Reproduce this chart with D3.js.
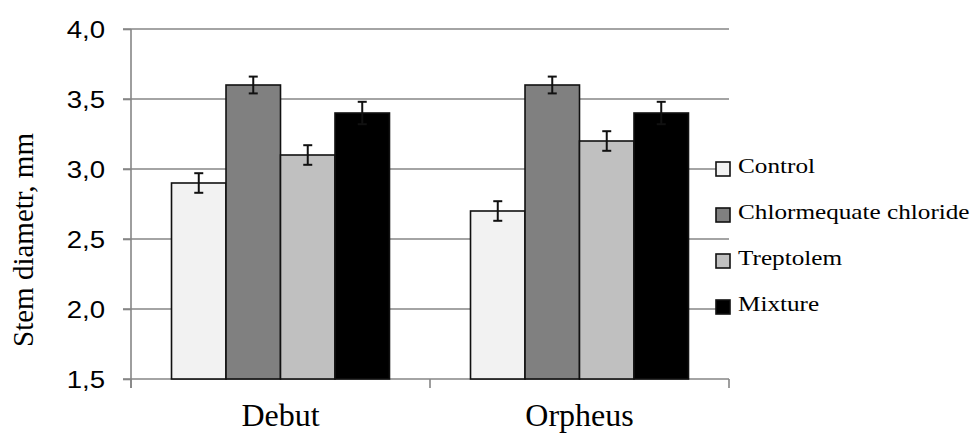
<!DOCTYPE html>
<html>
<head>
<meta charset="utf-8">
<script src="https://cdn.jsdelivr.net/npm/d3@7/dist/d3.min.js"></script>
<style>
  html, body { margin: 0; padding: 0; background: #fff; }
  svg { display: block; }
</style>
</head>
<body>
<svg id="chart" width="976" height="434"></svg>
<script>
const groups = ["Debut", "Orpheus"];
const series = ["Control", "Chlormequate chloride", "Treptolem", "Mixture"];
const colors = ["#f2f2f2", "#808080", "#c0c0c0", "#000000"];
const debutValues = [2.9, 3.6, 3.1, 3.4];
const orpheusValues = [2.7, 3.6, 3.2, 3.4];
const debutErrors = [0.07, 0.06, 0.07, 0.08];
const orpheusErrors = [0.07, 0.06, 0.07, 0.08];
const yTicks = [1.5, 2.0, 2.5, 3.0, 3.5, 4.0];
const yTitle = "Stem diametr, mm";

const values = [debutValues, orpheusValues];
const errors = [debutErrors, orpheusErrors];
const data = [];
groups.forEach((g, gi) => series.forEach((s, si) => {
  data.push({ group: g, series: s, si, value: values[gi][si], err: errors[gi][si] });
}));

const svg = d3.select("#chart");
const plotLeft = 131, plotRight = 729, plotTop = 29, plotBottom = 379;
const gridColor = "#868686";
const serif = "'Liberation Serif', 'Times New Roman', serif";

const y = d3.scaleLinear().domain([1.5, 4.0]).range([plotBottom, plotTop]);
const x0 = d3.scaleBand().domain(groups).range([plotLeft, plotRight]).paddingInner(0.271).paddingOuter(0.1355);
const x1 = d3.scaleBand().domain(series).range([0, x0.bandwidth()]);
const color = d3.scaleOrdinal().domain(series).range(colors);

// gridlines
svg.append("g").selectAll("line").data(yTicks).join("line")
  .attr("x1", plotLeft - 8).attr("x2", plotRight)
  .attr("y1", d => y(d)).attr("y2", d => y(d))
  .attr("stroke", gridColor).attr("stroke-width", 1.6);

// y axis
const yAxis = svg.append("g").attr("transform", `translate(${plotLeft},0)`)
  .call(d3.axisLeft(y).tickValues(yTicks).tickSize(8).tickSizeOuter(0)
    .tickFormat(d => d3.format(".1f")(d).replace(".", ",")));
yAxis.attr("font-family", "'Liberation Sans', Arial, sans-serif").attr("font-size", 23);
yAxis.select(".domain").remove();
yAxis.selectAll(".tick line").attr("stroke", gridColor).attr("stroke-width", 1.6);
yAxis.selectAll(".tick text")
  .attr("x", 0).attr("dy", "0.36em")
  .attr("transform", "translate(-26,0) scale(1.2,1)")
  .attr("fill", "#000");
svg.append("line").attr("x1", plotLeft).attr("x2", plotLeft).attr("y1", plotTop).attr("y2", plotBottom + 9)
  .attr("stroke", gridColor).attr("stroke-width", 1.6);

// x axis
const xAxis = svg.append("g").attr("transform", `translate(0,${plotBottom})`)
  .call(d3.axisBottom(x0).tickSize(0).tickSizeOuter(0).tickPadding(24));
xAxis.attr("font-family", serif).attr("font-size", 32);
xAxis.select(".domain").remove();
xAxis.selectAll(".tick text").attr("fill", "#000");
// category separator ticks
const sepX = [plotLeft, (x0("Debut") + x0.bandwidth() + x0("Orpheus")) / 2, plotRight];
svg.append("g").selectAll("line").data(sepX).join("line")
  .attr("x1", d => d).attr("x2", d => d).attr("y1", plotBottom).attr("y2", plotBottom + 9)
  .attr("stroke", gridColor).attr("stroke-width", 1.6);

// bars
svg.append("g").selectAll("rect").data(data).join("rect")
  .attr("x", d => x0(d.group) + x1(d.series))
  .attr("width", x1.bandwidth())
  .attr("y", d => y(d.value))
  .attr("height", d => y(1.5) - y(d.value))
  .attr("fill", d => color(d.series))
  .attr("stroke", "#111").attr("stroke-width", 1.6);

// error bars
const eb = svg.append("g").attr("stroke", "#111").attr("stroke-width", 2);
data.forEach(d => {
  const cx = x0(d.group) + x1(d.series) + x1.bandwidth() / 2;
  eb.append("line").attr("x1", cx).attr("x2", cx).attr("y1", y(d.value + d.err)).attr("y2", y(d.value - d.err));
  eb.append("line").attr("x1", cx - 4.5).attr("x2", cx + 4.5).attr("y1", y(d.value + d.err)).attr("y2", y(d.value + d.err));
  eb.append("line").attr("x1", cx - 4.5).attr("x2", cx + 4.5).attr("y1", y(d.value - d.err)).attr("y2", y(d.value - d.err));
});

// y title
svg.append("text")
  .attr("transform", "translate(33,240) rotate(-90)")
  .attr("text-anchor", "middle")
  .attr("fill", "#000")
  .attr("font-family", serif)
  .attr("font-size", 29)
  .text(yTitle);

// legend
const leg = svg.append("g").attr("font-family", serif).attr("font-size", 21);
const legY = d3.scalePoint().domain(series).range([169, 307]);
series.forEach(s => {
  const cy = legY(s);
  leg.append("rect").attr("x", 716).attr("y", cy - 7).attr("width", 14).attr("height", 14)
    .attr("fill", color(s)).attr("stroke", "#111").attr("stroke-width", 1.6);
  leg.append("text")
    .attr("transform", `translate(738,${cy + 4}) scale(1.2,1)`)
    .attr("fill", "#000")
    .text(s);
});
</script>
</body>
</html>
